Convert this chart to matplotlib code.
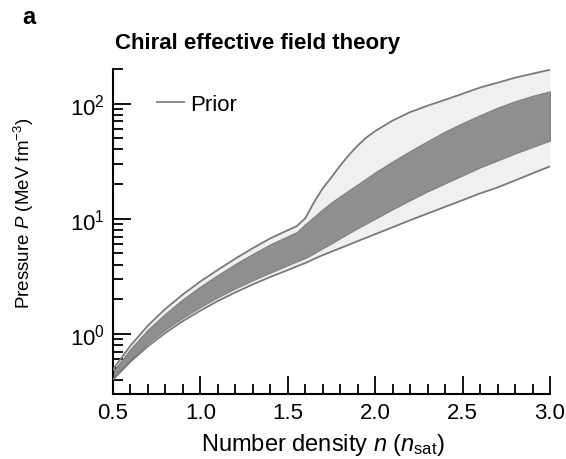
import matplotlib
matplotlib.use("Agg")
import matplotlib.pyplot as plt
from matplotlib.ticker import LogLocator, LogFormatterMathtext, MultipleLocator
from matplotlib.lines import Line2D

plt.rcParams["font.family"] = ["Liberation Sans", "DejaVu Sans"]
plt.rcParams["mathtext.fontset"] = "custom"
plt.rcParams["mathtext.rm"] = "Liberation Sans"
plt.rcParams["mathtext.it"] = "Liberation Sans:italic"
plt.rcParams["mathtext.bf"] = "Liberation Sans:bold"

# number density in units of n_sat
density = [0.5, 0.6, 0.7, 0.8, 0.9, 1.0, 1.1, 1.2, 1.3, 1.4, 1.5,
           1.55, 1.6, 1.65, 1.7, 1.75, 1.8, 1.85, 1.9, 1.95, 2.0,
           2.1, 2.2, 2.3, 2.4, 2.5, 2.6, 2.7, 2.8, 2.9, 3.0]

# prior band (outer, light), pressure in MeV fm^-3
prior_upper = [0.49, 0.79, 1.18, 1.65, 2.2, 2.85, 3.6, 4.5, 5.55, 6.75, 7.95,
               8.6, 10.1, 13.9, 18.4, 22.9, 29.0, 35.8, 43.3, 50.8, 57.8,
               71.3, 84.4, 96.1, 108.0, 122.0, 138.0, 152.0, 168.0, 182.0, 197.0]
prior_lower = [0.40, 0.573, 0.78, 1.02, 1.29, 1.59, 1.93, 2.29, 2.69, 3.12, 3.58,
               3.85, 4.12, 4.47, 4.83, 5.18, 5.55, 5.95, 6.39, 6.85, 7.34,
               8.44, 9.71, 11.1, 12.7, 14.5, 16.6, 18.7, 21.5, 24.8, 28.5]

# inner band (dark)
inner_upper = [0.47, 0.74, 1.09, 1.5, 2.0, 2.58, 3.25, 4.05, 4.95, 6.0, 7.05,
               7.64, 8.96, 10.4, 12.1, 13.9, 15.7, 17.7, 19.9, 22.4, 25.3,
               31.5, 38.8, 47.3, 57.3, 67.8, 79.5, 92.3, 105.0, 117.0, 128.0]
inner_lower = [0.42, 0.60, 0.83, 1.09, 1.38, 1.71, 2.08, 2.48, 2.92, 3.4, 3.95,
               4.25, 4.55, 5.0, 5.55, 6.1, 6.78, 7.5, 8.28, 9.1, 10.0,
               12.1, 14.5, 17.3, 20.3, 23.8, 27.9, 32.1, 36.9, 42.0, 47.8]

fig = plt.figure(figsize=(5.66, 4.60), dpi=100)
ax = fig.add_axes([0.1996, 0.1413, 0.7721, 0.7065])

edge = "#7a7a7a"
ax.fill_between(density, prior_lower, prior_upper, color="#f0f0f0", lw=0, zorder=1)
ax.plot(density, prior_upper, color=edge, lw=1.3, zorder=3)
ax.plot(density, prior_lower, color=edge, lw=1.3, zorder=3)
ax.fill_between(density, inner_lower, inner_upper, facecolor="#8f8f8f",
                edgecolor="#7f7f7f", lw=0.8, zorder=2)

ax.set_yscale("log")
ax.set_xlim(0.5, 3.0)
ax.set_ylim(0.3, 200)

ax.xaxis.set_major_locator(MultipleLocator(0.5))
ax.xaxis.set_minor_locator(MultipleLocator(0.1))
ax.xaxis.set_major_formatter(plt.FuncFormatter(lambda v, p: f"{v:.1f}"))
ax.yaxis.set_major_locator(LogLocator(base=10, numticks=10))
ax.yaxis.set_minor_locator(LogLocator(base=10, subs=range(2, 10), numticks=20))
ax.yaxis.set_major_formatter(LogFormatterMathtext())

for s in ["top", "right"]:
    ax.spines[s].set_visible(False)
for s in ["left", "bottom"]:
    ax.spines[s].set_linewidth(1.5)

ax.tick_params(which="both", direction="in", width=1.3, labelsize=16)
ax.tick_params(which="major", length=13, pad=6)
ax.tick_params(which="minor", length=7)

ax.set_xlabel(r"Number density $n$ ($n_{\mathrm{sat}}$)", fontsize=17)
ax.xaxis.set_label_coords(0.48, -0.115)
ax.set_ylabel(r"Pressure $P$ (MeV fm$^{-3}$)", fontsize=13.5)
ax.yaxis.set_label_coords(-0.177, 0.56)

handle = Line2D([], [], color="#808080", lw=1.3)
ax.legend([handle], ["Prior"], loc="upper left", bbox_to_anchor=(0.055, 0.985),
          frameon=False, fontsize=16, handlelength=1.2, handletextpad=0.3)

fig.text(115 / 566, 1 - 43 / 460, "Chiral effective field theory",
         fontsize=16, fontweight="bold", va="center", ha="left")
fig.text(22 / 566, 1 - 17 / 460, "a", fontsize=17, fontweight="bold",
         va="center", ha="left")

fig.savefig("out.png", dpi=100)
